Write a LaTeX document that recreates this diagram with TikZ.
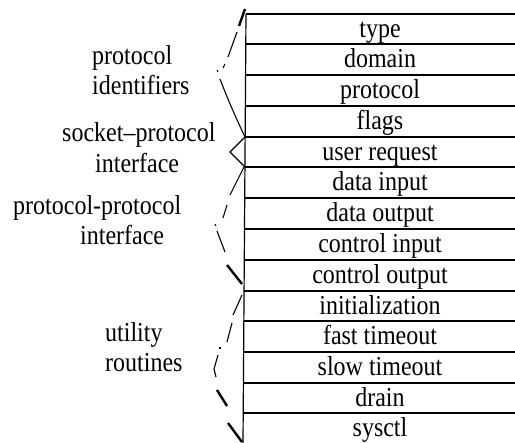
\documentclass[tikz,border=0pt]{standalone}
\usepackage{fontspec}
\setmainfont{Liberation Serif}
\begin{document}
\begin{tikzpicture}[x=1pt,y=-1pt,
    riga/.style={font=\fontsize{24}{30}\selectfont, anchor=base, inner sep=0pt, yscale=1.14, transform shape},
    etichetta/.style={font=\fontsize{24}{30}\selectfont, anchor=base west, inner sep=0pt, yscale=1.14, transform shape},
    tratto/.style={line width=1.1pt},
    grosso/.style={line width=2.4pt}]
    \useasboundingbox (0,0) rectangle (515,443);
    % Tabella
    \draw [line width=1.2pt] (246,14) -- (243,443);
    \draw [line width=1.1pt] (246,14) -- (515,14);
    \draw [line width=1.1pt] (246,44) -- (515,44);
    \draw [line width=1.1pt] (246,75) -- (515,75);
    \draw [line width=1.1pt] (246,106) -- (515,106);
    \draw [line width=1.1pt] (245,137) -- (515,137);
    \draw [line width=1.1pt] (245,167) -- (515,167);
    \draw [line width=1.1pt] (245,198) -- (515,198);
    \draw [line width=1.1pt] (245,229) -- (515,229);
    \draw [line width=1.1pt] (244,260) -- (515,260);
    \draw [line width=1.1pt] (244,291) -- (515,291);
    \draw [line width=1.1pt] (244,321) -- (515,321);
    \draw [line width=1.1pt] (244,352) -- (515,352);
    \draw [line width=1.1pt] (243,383) -- (515,383);
    \draw [line width=1.1pt] (243,413) -- (515,413);
    % Righe
    \node [riga] (type) at (380,38) {type};
    \node [riga] (domain) at (380,68) {domain};
    \node [riga] (protocol) at (380,99) {protocol};
    \node [riga] (flags) at (380,130) {flags};
    \node [riga] (userreq) at (380,161) {user request};
    \node [riga] (datain) at (380,191) {data input};
    \node [riga] (dataout) at (380,222) {data output};
    \node [riga] (ctlin) at (380,253) {control input};
    \node [riga] (ctlout) at (380,284) {control output};
    \node [riga] (init) at (380,315) {initialization};
    \node [riga] (fasttm) at (380,345) {fast timeout};
    \node [riga] (slowtm) at (380,376) {slow timeout};
    \node [riga] (drain) at (380,407) {drain};
    \node [riga] (sysctl) at (380,437) {sysctl};
    % Etichette
    \node [etichetta] (identA) at (92,65) {protocol};
    \node [etichetta] (identB) at (92,95) {identifiers};
    \node [etichetta] (sockA) at (62,142) {socket--protocol};
    \node [etichetta] (sockB) at (95,173) {interface};
    \node [etichetta] (protA) at (13,215) {protocol-protocol};
    \node [etichetta] (protB) at (80,245) {interface};
    \node [etichetta] (utilA) at (105,342) {utility};
    \node [etichetta] (utilB) at (105,372) {routines};
    % Parentesi
    \draw [grosso] (245,9) -- (239,26);
    \draw [tratto] (237,32) -- (228,57);
    \draw [tratto] (225,64) -- (223,68);
    \draw [tratto] (217,70) -- (218,72);
    \draw [tratto] (220,79) .. controls (228,100) and (236,118) .. (245,137);
    \draw [tratto] (245,137) -- (230,152) -- (245,167);
    \draw [tratto] (244,167) -- (230,195);
    \draw [tratto] (227,205) -- (223,218);
    \draw [tratto] (215,224) -- (216,226);
    \draw [tratto] (217,231) -- (225,252);
    \draw [grosso] (227,265) -- (242,284);
    \draw [tratto] (242,295) -- (233,315);
    \draw [tratto] (232,323) -- (227,342);
    \draw [tratto] (220,347) -- (220,349);
    \draw [tratto] (218,355) -- (214,369) -- (216,377);
    \draw [grosso] (217,390) -- (227,406);
    \draw [grosso] (228,423) -- (242,442);
\end{tikzpicture}
\end{document}
